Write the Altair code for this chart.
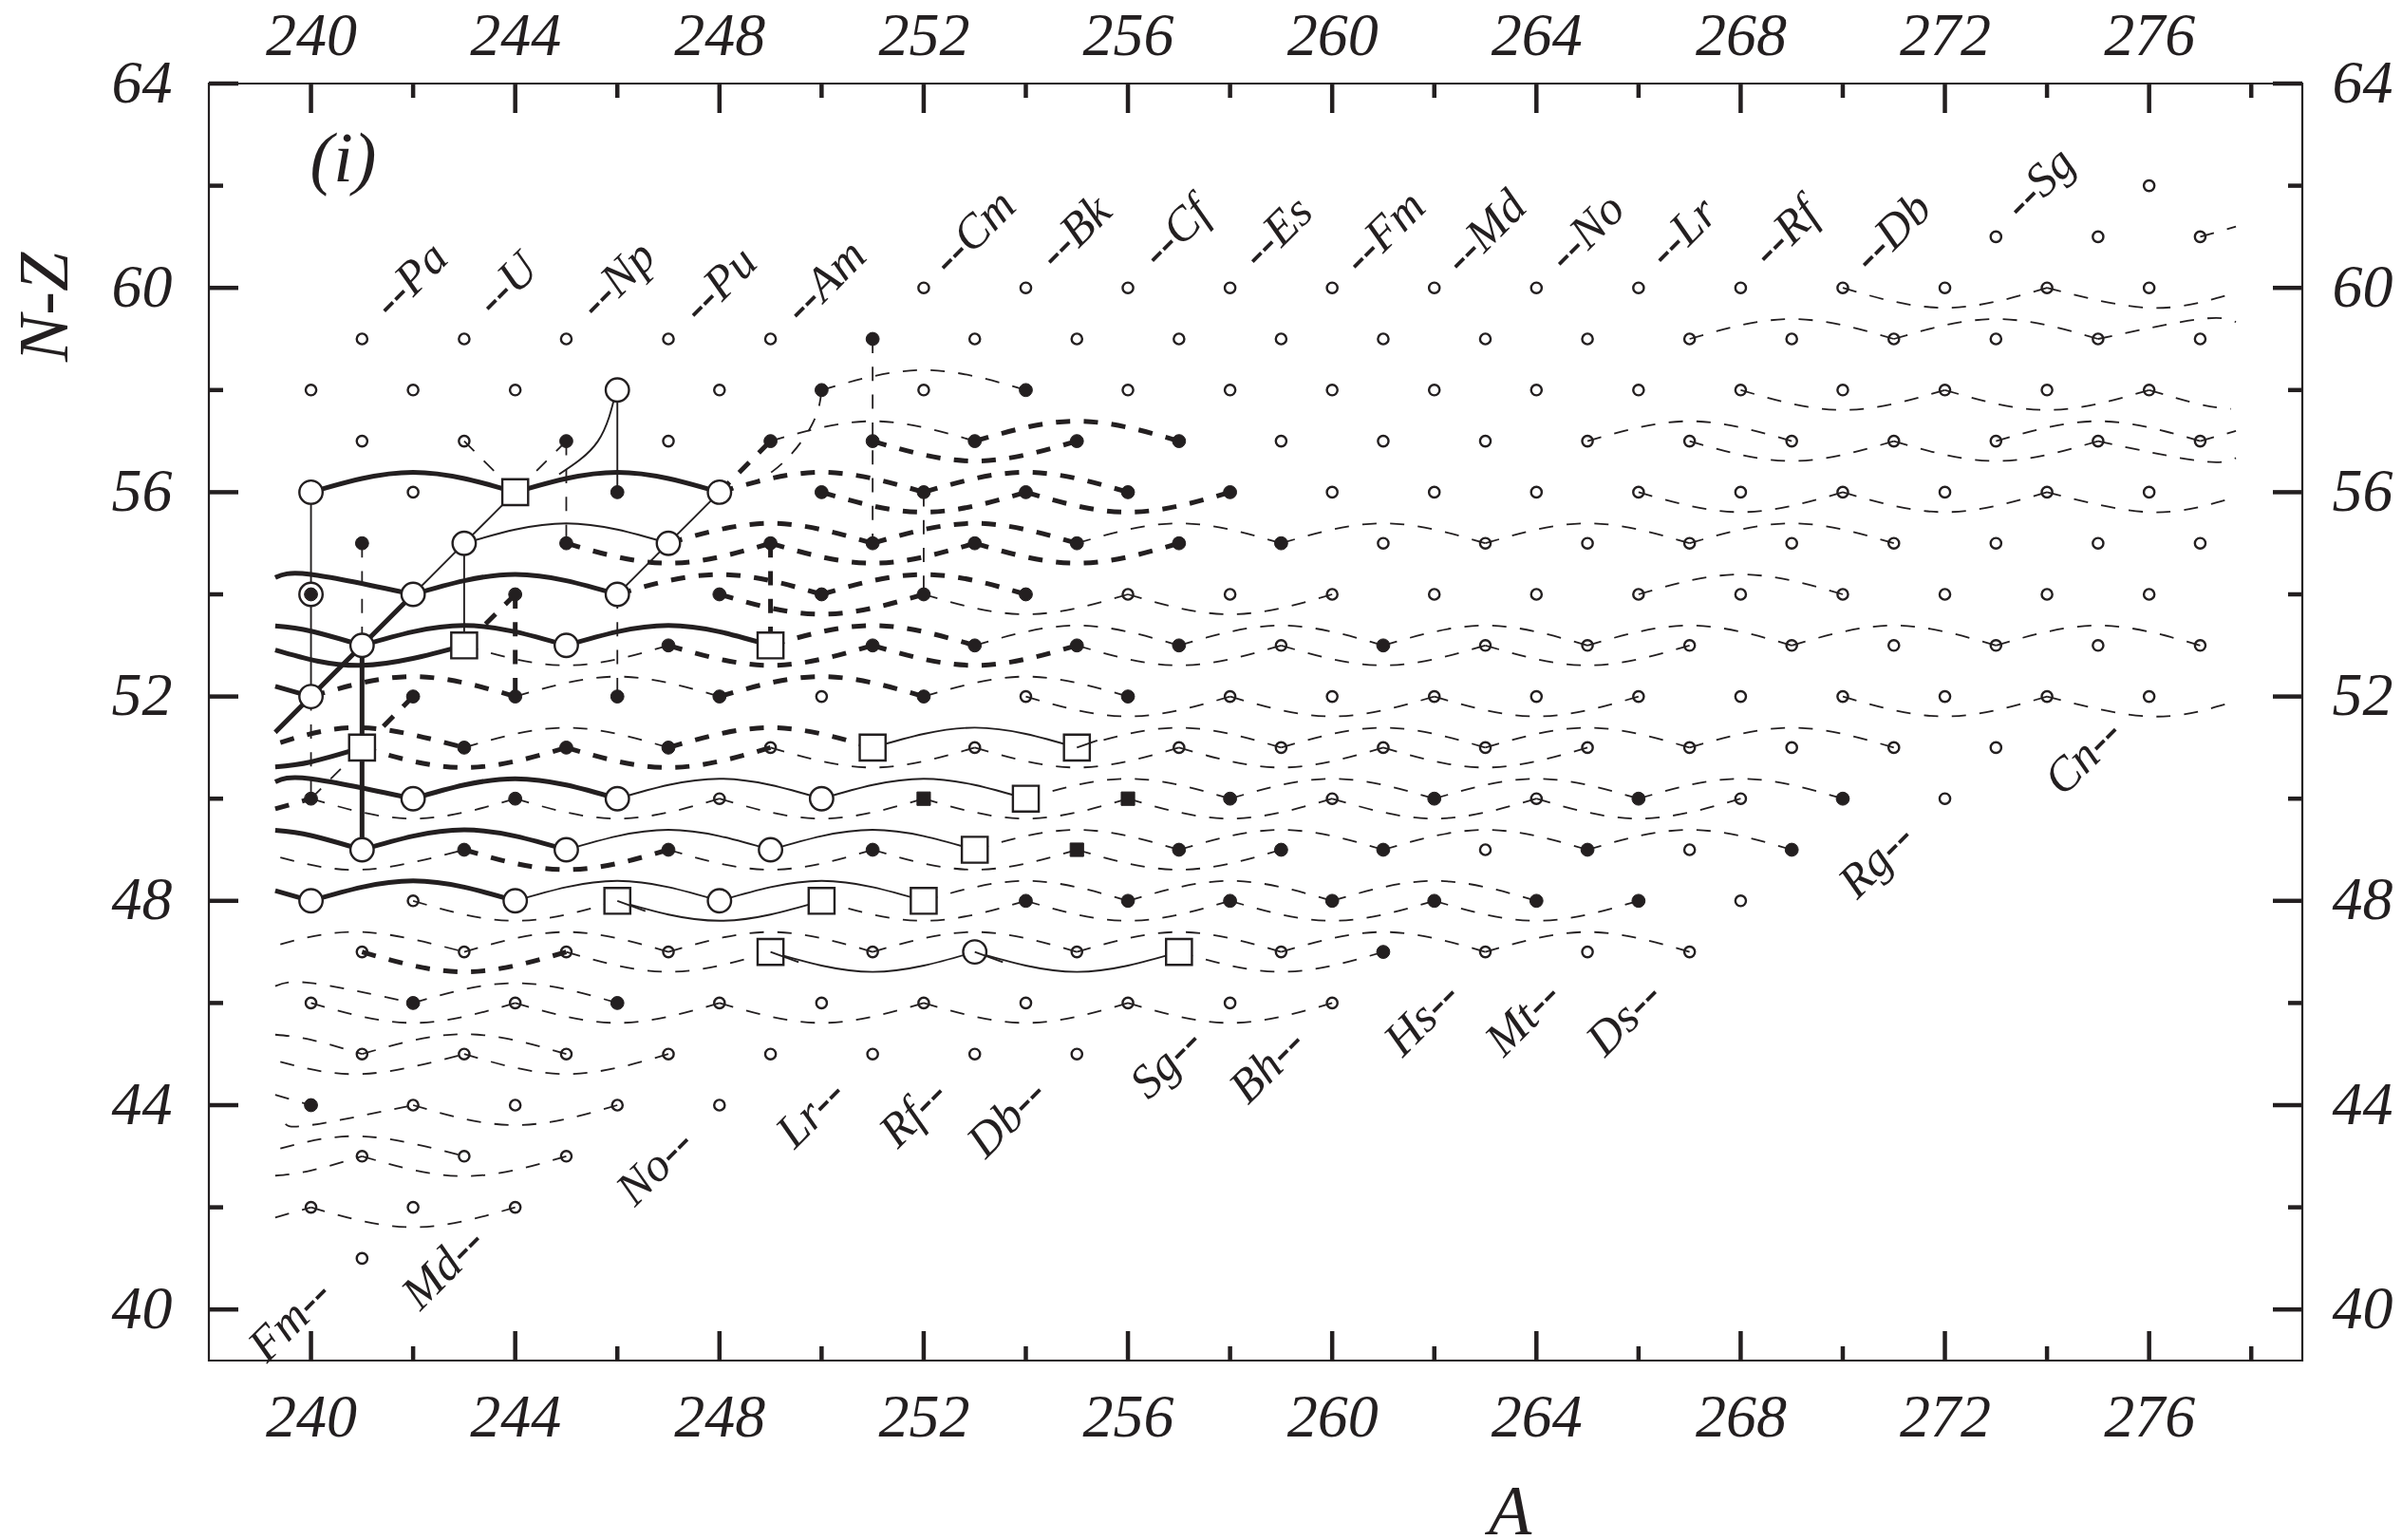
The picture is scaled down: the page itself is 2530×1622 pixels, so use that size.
import altair as alt
import pandas as pd

INK = "#231f20"
FONT = "Liberation Serif"
W, H = 2205, 1345

# ---- nuclei (A values per N-Z row) ----
OPEN = {
    62: [276],
    61: [273, 275, 277],
    60: [252, 254, 256, 258, 260, 262, 264, 266, 268, 270, 272, 274, 276],
    59: [241, 243, 245, 247, 249, 253, 255, 257, 259, 261, 263, 265, 267, 269, 271, 273, 275, 277],
    58: [240, 242, 244, 248, 252, 256, 258, 260, 262, 264, 266, 268, 270, 272, 274, 276],
    57: [241, 243, 247, 259, 261, 263, 265, 267, 269, 271, 273, 275, 277],
    56: [242, 260, 262, 264, 266, 268, 270, 272, 274, 276],
    55: [261, 263, 265, 267, 269, 271, 273, 275, 277],
    54: [256, 258, 260, 262, 264, 266, 268, 270, 272, 274, 276],
    53: [259, 263, 265, 267, 269, 271, 273, 275, 277],
    52: [250, 254, 258, 260, 262, 264, 266, 268, 270, 272, 274, 276],
    51: [249, 253, 257, 259, 261, 263, 265, 267, 269, 271, 273],
    50: [248, 260, 264, 268, 272],
    49: [263, 267],
    48: [242, 268],
    47: [241, 243, 245, 247, 251, 255, 259, 263, 265, 267],
    46: [240, 244, 248, 250, 252, 254, 256, 258, 260],
    45: [241, 243, 245, 247, 249, 251, 253, 255],
    44: [242, 244, 246, 248],
    43: [241, 243, 245],
    42: [240, 242, 244],
    41: [241],
}
FILLED = {
    59: [251],
    58: [250, 254],
    57: [245, 249, 251, 253, 255, 257],
    56: [246, 250, 252, 254, 256, 258],
    55: [241, 245, 249, 251, 253, 255, 257, 259],
    54: [240, 244, 248, 250, 252, 254],
    53: [247, 251, 253, 255, 257, 261],
    52: [242, 244, 246, 248, 252, 256],
    51: [243, 245, 247],
    50: [240, 244, 258, 262, 266, 270],
    49: [243, 247, 251, 257, 259, 261, 265, 269],
    48: [254, 256, 258, 260, 262, 264, 266],
    47: [261],
    46: [242, 246],
    44: [240],
}
FILLED_SQ = {50: [252, 256], 49: [255]}
BIG_CIRC = {
    58: [246], 56: [240, 248], 55: [243, 247], 54: [240, 242, 246],
    53: [241, 245], 52: [240], 50: [242, 246, 250], 49: [241, 245, 249],
    48: [240, 244, 248], 47: [253],
}
BIG_SQ = {
    56: [244], 53: [243, 249], 51: [241, 251, 255], 50: [254],
    49: [253], 48: [246, 250, 252], 47: [249, 257],
}

# ---- alpha-chain arcs: (row, peak value, [starting A of each 4-wide arc]) ----
ARC_THICK = [
    (56, 56.39, [240, 244]), (54, 54.39, [242]), (53, 53.39, [241, 245]),
    (50, 50.39, [242]), (49, 49.39, [241]), (48, 48.39, [240]),
]
ARC_THIN = [
    (55, 55.39, [243]), (51, 51.39, [251]), (50, 50.39, [246, 250]),
    (49, 49.39, [245, 249]), (48, 48.39, [244, 248]), (48, 47.61, [246]),
    (47, 46.61, [249, 253]),
]
ARC_THICK_DASH = [
    (57, 56.61, [251]), (57, 57.39, [253]), (56, 56.39, [248, 252]),
    (56, 55.61, [250, 254]), (55, 55.39, [247, 251]), (55, 54.61, [245, 249, 253]),
    (54, 54.39, [246, 250]), (54, 53.61, [248]), (53, 53.39, [249]),
    (53, 52.61, [247, 251]), (52, 52.39, [240, 248]), (51, 51.39, [247]),
    (51, 50.61, [241, 245]), (49, 48.61, [243]), (47, 46.61, [241]),
]
ARC_THIN_DASH = [
    (60, 59.61, [270]), (59, 59.39, [267, 271]), (58, 57.61, [268, 272]),
    (58, 58.39, [250]), (57, 57.39, [249, 265, 273]), (57, 56.61, [267, 271]),
    (56, 55.61, [266, 270]), (55, 55.39, [255, 259, 263, 267]),
    (54, 53.61, [252, 256]), (54, 54.39, [266]),
    (53, 53.39, [253, 257, 261, 265, 269, 273]), (53, 52.61, [243, 255, 259, 263]),
    (52, 52.39, [244, 252]), (52, 51.61, [254, 258, 262, 270]),
    (51, 51.39, [243, 255, 259, 263, 267]), (51, 50.61, [249, 253, 257, 261]),
    (50, 50.39, [254, 258, 262, 266]), (50, 49.61, [240, 244, 248, 252, 256, 260, 264]),
    (49, 49.39, [253, 257, 261, 265]), (49, 48.61, [247, 251, 255]),
    (48, 48.39, [252, 256, 260]), (48, 47.61, [242, 250, 254, 258, 262]),
    (47, 47.39, [243, 247, 251, 255, 259, 263]), (47, 46.61, [245, 257]),
    (46, 46.39, [242]), (46, 45.61, [240, 244, 248, 252, 256]),
    (45, 45.39, [241]), (45, 44.61, [243]), (44, 43.61, [242]),
    (43, 42.61, [241]), (42, 41.61, [240]),
]

# ---- free polylines (arcs cut by the plot's mask, and the connectors) ----
PATH_THICK = [
    [(239.3, 54.33), (240, 54.39), (242, 54)],
    [(239.3, 53.38), (240, 53.28), (241, 53)],
    [(239.3, 52.91), (241, 52.61), (243, 53)],
    [(239.3, 52.2), (240, 52)],
    [(239.3, 50.62), (240, 50.72), (241, 51)],
    [(239.3, 50.33), (240, 50.39), (242, 50)],
    [(239.3, 49.38), (240, 49.28), (241, 49)],
    [(239.3, 48.2), (240, 48)],
    [(241, 53), (241, 49)],
    [(239.3, 51.3), (240, 52), (241, 53), (242, 54)],
]
PATH_THIN = [
    [(240, 56), (240, 52)],
    [(243, 55), (243, 53)],
    [(246, 58), (246, 56)],
    [(242, 54), (243, 55), (244, 56)],
    [(246, 54), (247, 55), (248, 56)],
    [(245.98, 58), (245.62, 57.0), (244.86, 56.35)],
]
PATH_THICK_DASH = [
    [(239.4, 51.1), (241, 51.39), (243, 51)],
    [(239.3, 49.8), (240, 50)],
    [(244, 54), (244, 52)],
    [(249, 55), (249, 53)],
    [(248, 56), (249, 57)],
    [(244, 54), (243, 53)],
    [(242, 52), (241, 51)],
]
PATH_THIN_DASH = [
    [(277, 61), (277.7, 61.2)],
    [(274, 60), (276, 59.61), (277.5, 59.85)],
    [(275, 59), (277, 59.39), (277.7, 59.33)],
    [(276, 58), (277, 57.72), (277.6, 57.63)],
    [(277, 57), (277.7, 57.2)],
    [(275, 57), (277, 56.61), (277.7, 56.67)],
    [(274, 56), (276, 55.61), (277.5, 55.85)],
    [(274, 52), (276, 51.61), (277.5, 51.85)],
    [(239.4, 48.85), (241, 48.61), (243, 49)],
    [(239.4, 47.15), (241, 47.39), (243, 47)],
    [(239.3, 46.33), (240, 46.39), (242, 46)],
    [(239.3, 45.38), (240, 45.28), (241, 45)],
    [(239.4, 44.85), (241, 44.61), (243, 45)],
    [(239.3, 44.2), (240, 44)],
    [(239.5, 43.63), (240, 43.61), (242, 44)],
    [(239.4, 43.15), (241, 43.39), (243, 43)],
    [(239.3, 42.62), (240, 42.72), (241, 43)],
    [(239.3, 41.8), (240, 42)],
    [(245, 57), (245, 55)],
    [(241, 55), (241, 53)],
    [(240, 52), (240, 50)],
    [(246, 54), (246, 52)],
    [(251, 59), (251, 55)],
    [(252, 56), (252, 54)],
    [(243, 57), (244, 56)],
    [(245, 57), (244, 56)],
    [(240, 50), (241, 51)],
    [(248, 56), (249.03, 56.4), (249.8, 57.3), (250, 58)],
]
# arc starts that show on top of their big square / circle
PATH_OVER = [
    [(246, 48), (246.55, 47.8)],
    [(249, 47), (249.55, 46.8)],
    [(253, 47), (253.55, 46.8)],
    [(255, 51), (255.4, 51.14)],
]

# ---- text ----
EL_TOP = ["--Pa", "--U", "--Np", "--Pu", "--Am", "--Cm", "--Bk", "--Cf", "--Es", "--Fm", "--Md",
          "--No", "--Lr", "--Rf", "--Db", "--Sg"]
EL_TOP_A = [241.95, 243.84, 246.0, 248.0, 250.07, 252.98, 254.96, 256.94, 258.92, 261.02, 263.0,
            264.98, 266.87, 268.88, 270.97, 273.85]
EL_TOP_Y = [60.15, 60.06, 60.15, 60.06, 60.12, 61.08, 61.08, 61.08, 61.08, 61.08, 61.08,
            61.08, 61.08, 61.08, 61.08, 62.04]
EL_LOW = ["Fm--", "Md--", "No--", "Lr--", "Rf--", "Db--", "Sg--", "Bh--", "Hs--", "Mt--", "Ds--",
          "Rg--", "Cn--"]
EL_LOW_A = [239.6, 242.6, 246.75, 249.8, 251.81, 253.64, 256.76, 258.74, 261.77, 263.75, 265.73,
            270.67, 274.72]
EL_LOW_Y = [39.79, 40.81, 42.79, 43.84, 43.84, 43.75, 44.83, 44.77, 45.7, 45.7, 45.7,
            48.79, 50.82]
X_MAJOR = [240, 244, 248, 252, 256, 260, 264, 268, 272, 276]
X_MINOR = [242, 246, 250, 254, 258, 262, 266, 270, 274, 278]
Y_MAJOR = [40, 44, 48, 52, 56, 60, 64]
Y_MINOR = [42, 46, 50, 54, 58, 62]

xs = alt.Scale(domain=[238, 279], nice=False, zero=False)
ys = alt.Scale(domain=[39, 64], nice=False, zero=False)
X = alt.X("a:Q", scale=xs, axis=None)
Y = alt.Y("y:Q", scale=ys, axis=None)


def paths_frame(arcs, paths):
    rows = []
    k = 0
    for row, peak, starts in arcs:
        for a0 in starts:
            for i, (a, y) in enumerate([(a0, row), (a0 + 2, peak), (a0 + 4, row)]):
                rows.append({"id": k, "i": i, "a": a, "y": y})
            k += 1
    for p in paths:
        for i, (a, y) in enumerate(p):
            rows.append({"id": k, "i": i, "a": a, "y": y})
        k += 1
    return pd.DataFrame(rows)


def line_layer(arcs, paths, width, dash=None):
    kw = {"strokeDash": dash} if dash else {}
    return alt.Chart(paths_frame(arcs, paths)).mark_line(
        stroke=INK, strokeWidth=width, interpolate="natural", clip=True, **kw
    ).encode(x=X, y=Y, detail="id:N", order="i:Q")


def nodes(table):
    return pd.DataFrame([{"a": a, "y": r} for r, al in table.items() for a in al])


def node_layer(table, shape, size, fill, sw):
    return alt.Chart(nodes(table)).mark_point(
        shape=shape, size=size, filled=True, fill=fill, stroke=INK, strokeWidth=sw, opacity=1
    ).encode(x=X, y=Y)


def hticks(vals, x0, x1, w=4.5):
    return alt.Chart(pd.DataFrame({"y": vals})).mark_rule(stroke=INK, strokeWidth=w).encode(
        y=Y, x=alt.value(x0), x2=alt.value(x1))


def vticks(vals, y0, y1, w=4.5):
    return alt.Chart(pd.DataFrame({"a": vals})).mark_rule(stroke=INK, strokeWidth=w).encode(
        x=X, y=alt.value(y0), y2=alt.value(y1))


def axis(orient, values, pad, **kw):
    return alt.Axis(orient=orient, values=values, format="d", grid=False, ticks=False, domain=False,
                    labelFont=FONT, labelFontStyle="italic", labelFontSize=64, labelColor=INK,
                    labelPadding=pad, labelOverlap=False, **kw)


def text_layer(labels, a, y):
    df = pd.DataFrame({"t": labels, "a": a, "y": y})
    return alt.Chart(df).mark_text(font=FONT, fontStyle="italic", fontSize=50, color=INK, angle=315,
                                   align="center", baseline="middle").encode(x=X, y=Y, text="t:N")


dummy = pd.DataFrame({"a": [240], "y": [40]})
title_kw = dict(titleFont=FONT, titleFontStyle="italic", titleFontWeight="normal", titleFontSize=74,
                titleColor=INK, titleBaseline="alphabetic", titleAlign="center")
axes_a = alt.Chart(dummy).mark_point(opacity=0).encode(
    x=alt.X("a:Q", scale=xs, title="A",
            axis=axis("bottom", X_MAJOR, 28, titleX=1370, titleY=182, **title_kw)),
    y=alt.Y("y:Q", scale=ys, title="N-Z",
            axis=axis("left", Y_MAJOR, 39, titleX=-150, titleY=235, titleAngle=270, **title_kw)),
)
axes_b = alt.Chart(dummy).mark_point(opacity=0).encode(
    x=alt.X("a:Q", scale=xs, title=None, axis=axis("top", X_MAJOR, 18)),
    y=alt.Y("y:Q", scale=ys, title=None, axis=axis("right", Y_MAJOR, 31)),
)

panel_mark = alt.Chart(pd.DataFrame({"t": ["(i)"], "a": [240.63], "y": [62.49]})).mark_text(
    font=FONT, fontStyle="italic", fontSize=74, color=INK, align="center", baseline="middle"
).encode(x=X, y=Y, text="t:N")

THIN_DASH = [15, 14.3]
THICK_DASH = [15, 14.3]

chart = alt.layer(
    axes_a,
    axes_b,
    vticks(X_MAJOR, H - 31, H), vticks(X_MINOR, H - 15, H),
    vticks(X_MAJOR, 0, 31), vticks(X_MINOR, 0, 15),
    hticks(Y_MAJOR, 0, 31), hticks(Y_MINOR, 0, 15),
    hticks(Y_MAJOR, W - 31, W), hticks(Y_MINOR, W - 15, W),
    node_layer(OPEN, "circle", 125, "white", 2.4),
    line_layer(ARC_THIN_DASH, PATH_THIN_DASH, 1.8, THIN_DASH),
    line_layer(ARC_THIN, PATH_THIN, 1.9),
    line_layer(ARC_THICK_DASH, PATH_THICK_DASH, 5, THICK_DASH),
    line_layer(ARC_THICK, PATH_THICK, 5),
    node_layer(FILLED, "circle", 190, INK, 1),
    node_layer(FILLED_SQ, "square", 200, INK, 1),
    node_layer(BIG_CIRC, "circle", 600, "white", 2.4),
    node_layer(BIG_SQ, "square", 740, "white", 2.4),
    node_layer({54: [240]}, "circle", 190, INK, 1),
    line_layer([], PATH_OVER, 1.9),
    text_layer(EL_TOP, EL_TOP_A, EL_TOP_Y),
    text_layer(EL_LOW, EL_LOW_A, EL_LOW_Y),
    panel_mark,
).resolve_axis(x="independent", y="independent").properties(
    width=W, height=H,
    autosize=alt.AutoSizeParams(type="none"),
    padding={"left": 212, "top": 80, "right": 97, "bottom": 186},
    background="white",
).configure_view(stroke=INK, strokeWidth=2.2)

chart.save("out.html", embed_options={"renderer": "svg", "actions": False})
